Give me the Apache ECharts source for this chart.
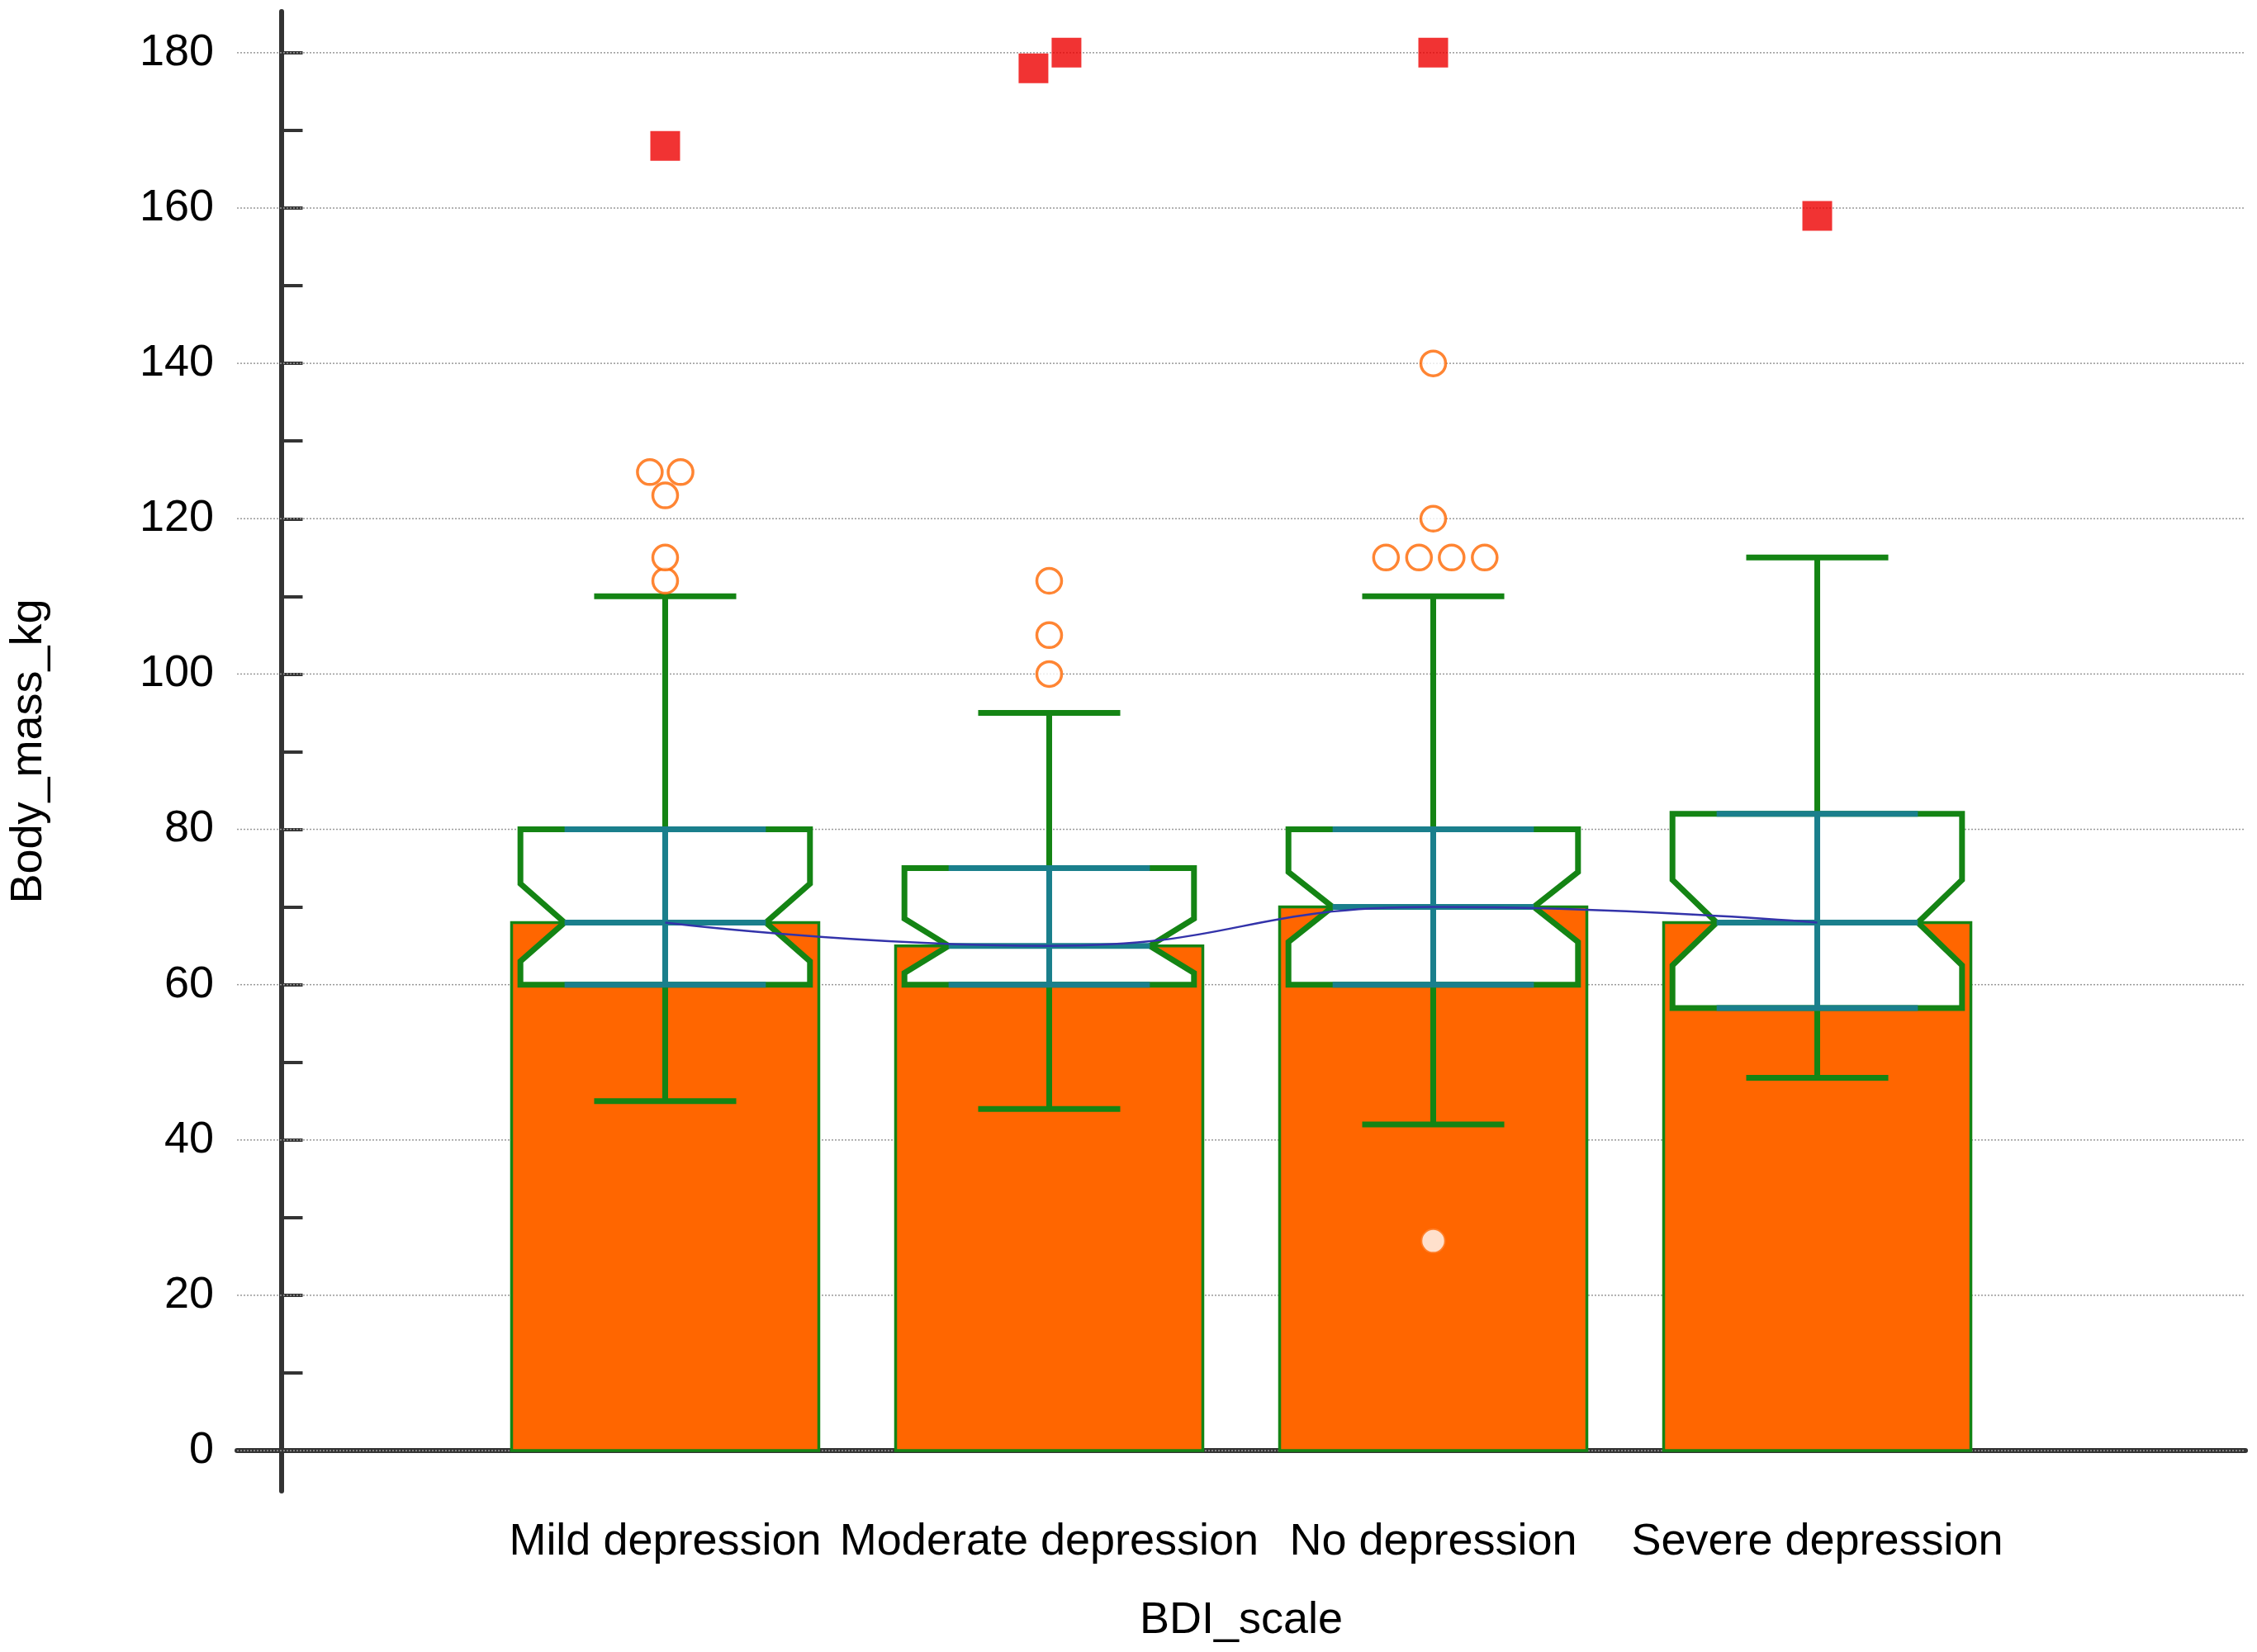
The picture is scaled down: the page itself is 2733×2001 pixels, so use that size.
<!DOCTYPE html>
<html><head><meta charset="utf-8">
<script src="https://cdn.jsdelivr.net/npm/echarts@6/dist/echarts.min.js"></script>
<style>html,body{margin:0;background:#fff}#c{width:2733px;height:2001px}</style>
</head><body><div id="c"></div>
<script>
// data
const groups = ['Mild depression', 'Moderate depression', 'No depression', 'Severe depression'];
const barValues = [68, 65, 70, 68];
const whiskerLow = [45, 44, 42, 48];
const q1 = [60, 60, 60, 57];
const medians = [68, 65, 70, 68];
const q3 = [80, 75, 80, 82];
const whiskerHigh = [110, 95, 110, 115];
const notchHalf = [5, 3.5, 4.5, 5.5];
// outliers: [group index, value, jitter]
const outliers = [
  [0, 112, 0], [0, 115, 0], [0, 123, 0], [0, 126, -0.04], [0, 126, 0.04],
  [1, 100, 0], [1, 105, 0], [1, 112, 0],
  [2, 27, 0], [2, 115, -0.123], [2, 115, -0.037], [2, 115, 0.048], [2, 115, 0.134], [2, 120, 0], [2, 140, 0],
];
const farOutliers = [[0, 168, 0], [1, 178, -0.041], [1, 180, 0.045], [2, 180, 0], [3, 159, 0]];
const yTicks = [0, 20, 40, 60, 80, 100, 120, 140, 160, 180];
const yMinor = [10, 30, 50, 70, 90, 110, 130, 150, 170];

const GREEN = '#148414', TEAL = '#1a7f8c', ORANGE = '#ff6600';
const chart = echarts.init(document.getElementById('c'));
const idx = groups.map((g, i) => i);

function boxItem(params, api) {
  const i = api.value(0), x = i + 1;
  const P = (dx, v) => api.coord([x + dx, v]);
  const hw = 0.377, nw = 0.262, cw = 0.185;
  const lo = q1[i], hi = q3[i], m = medians[i], n = notchHalf[i];
  const poly = [P(-hw, lo), P(hw, lo), P(hw, m - n), P(nw, m), P(hw, m + n), P(hw, hi),
    P(-hw, hi), P(-hw, m + n), P(-nw, m), P(-hw, m - n)];
  const line = (a, b, c) => ({ type: 'line', shape: { x1: a[0], y1: a[1], x2: b[0], y2: b[1] }, style: { stroke: c, lineWidth: 7 } });
  return { type: 'group', children: [
    line(P(0, whiskerLow[i]), P(0, lo), GREEN),
    line(P(0, hi), P(0, whiskerHigh[i]), GREEN),
    line(P(-cw, whiskerLow[i]), P(cw, whiskerLow[i]), GREEN),
    line(P(-cw, whiskerHigh[i]), P(cw, whiskerHigh[i]), GREEN),
    { type: 'polygon', shape: { points: poly }, style: { fill: '#fff', stroke: GREEN, lineWidth: 7 } },
    line(P(0, lo), P(0, hi), TEAL),
    line(P(-nw, lo), P(nw, lo), TEAL),
    line(P(-nw, hi), P(nw, hi), TEAL),
    line(P(-nw, m), P(nw, m), TEAL)
  ]};
}
function barItem(params, api) {
  const i = api.value(0), x = i + 1;
  const a = api.coord([x - 0.4, barValues[i]]), b = api.coord([x + 0.4, 0]);
  return { type: 'rect', shape: { x: a[0], y: a[1], width: b[0] - a[0], height: b[1] - a[1] },
    style: { fill: ORANGE, stroke: GREEN, lineWidth: 3.5 } };
}
function gridItem(params, api) {
  const v = api.value(0);
  const a = api.coord([-0.115, v]), b = api.coord([5.115, v]);
  return { type: 'line', shape: { x1: a[0], y1: a[1], x2: b[0], y2: b[1] }, style: { stroke: '#999', lineWidth: 1.5, lineDash: [2, 2] } };
}

chart.setOption({
  animation: false,
  grid: { left: 267, right: 14, top: 14, bottom: 195 },
  xAxis: {
    type: 'value', min: -0.115, max: 5.115,
    name: 'BDI_scale', nameLocation: 'middle', nameGap: 130,
    nameTextStyle: { fontFamily: 'Liberation Sans', fontSize: 54, color: '#000' },
    axisLine: { lineStyle: { color: '#333', width: 6 } },
    axisTick: { show: true, inside: true, length: 40, customValues: [1, 2, 3, 4], lineStyle: { color: '#333', width: 5 } },
    axisLabel: { customValues: [1, 2, 3, 4], formatter: v => groups[Math.round(v) - 1], fontFamily: 'Liberation Sans', fontSize: 54, color: '#000', margin: 35 },
    splitLine: { show: false }
  },
  yAxis: {
    type: 'value', min: -5.2, max: 185.3,
    name: 'Body_mass_kg', nameLocation: 'middle', nameGap: 225,
    nameTextStyle: { fontFamily: 'Liberation Sans', fontSize: 54, color: '#000' },
    axisLine: { show: true, lineStyle: { color: '#333', width: 6 } },
    axisTick: { show: true, inside: true, length: 26, customValues: yTicks.concat(yMinor), lineStyle: { color: '#333', width: 4 } },
    axisLabel: { customValues: yTicks, fontFamily: 'Liberation Sans', fontSize: 54, color: '#000', margin: 28 },
    splitLine: { show: false }
  },
  series: [
    { type: 'custom', renderItem: gridItem, data: yTicks.map(v => [v]), silent: true, z: 1 },
    { type: 'custom', renderItem: barItem, data: idx.map(i => [i]), z: 2 },
    { type: 'custom', renderItem: boxItem, data: idx.map(i => [i]), z: 3 },
    { type: 'line', data: medians.map((v, i) => [i + 1, v]), smooth: true, symbol: 'none', z: 4,
      lineStyle: { color: '#3333aa', width: 2.5 } },
    { type: 'scatter', data: outliers.map(o => [o[0] + 1 + o[2], o[1]]), symbol: 'circle', symbolSize: 30, z: 5,
      itemStyle: { color: '#fff', borderColor: ORANGE, borderWidth: 3.5 } },
    { type: 'scatter', data: farOutliers.map(o => [o[0] + 1 + o[2], o[1]]), symbol: 'rect', symbolSize: 36, z: 5,
      itemStyle: { color: '#ee0000' } }
  ]
});
</script></body></html>
